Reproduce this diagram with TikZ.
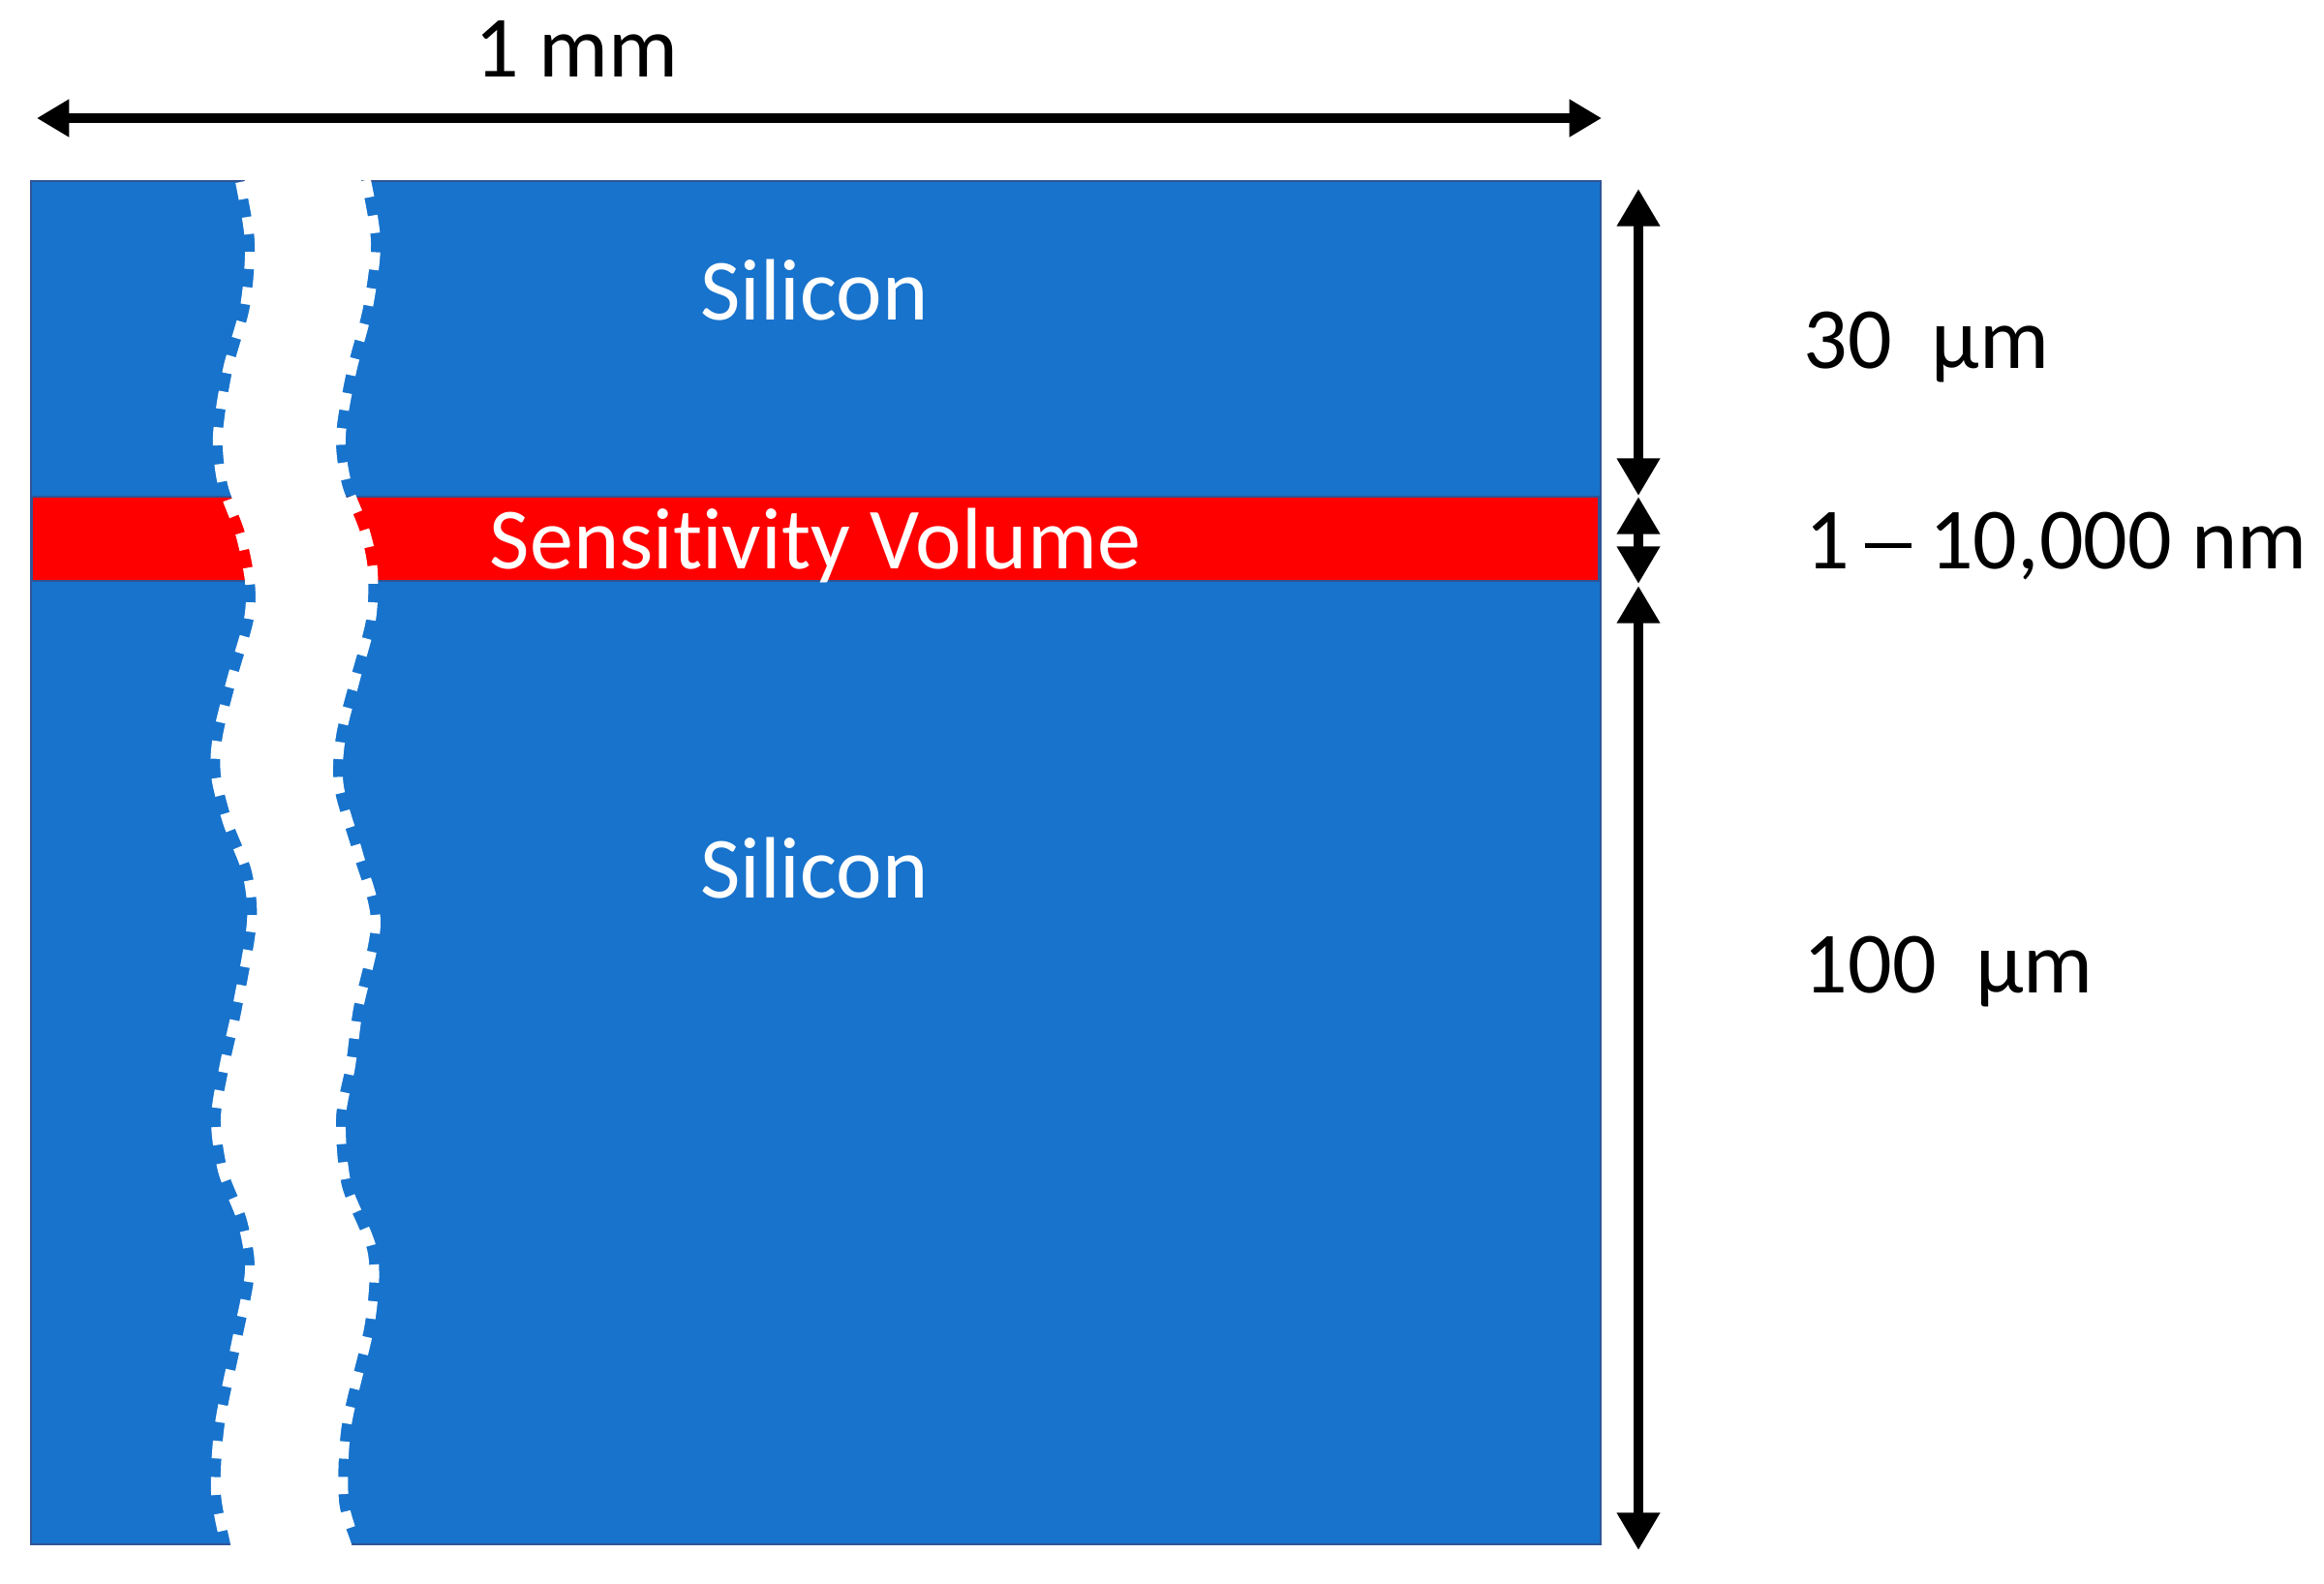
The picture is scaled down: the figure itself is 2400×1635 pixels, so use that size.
\documentclass[tikz,border=0pt]{standalone}
\usepackage{fontspec}
\setmainfont{Carlito}[Ligatures={NoCommon}]
\usetikzlibrary{arrows.meta}
\definecolor{siblue}{HTML}{1873CC}
\definecolor{siedge}{HTML}{2F5597}
\definecolor{svred}{HTML}{FF0000}
\begin{document}
\begin{tikzpicture}[x=0.01cm,y=-0.01cm,
  lbl/.style={font=\fontsize{25.6pt}{30pt}\selectfont, inner sep=0pt},
  wlbl/.style={lbl, text=white},
  dimarrow/.style={line width=3pt, {Triangle[width=12pt,length=11pt]}-{Triangle[width=12pt,length=11pt]}},
  harrow/.style={line width=2.8pt, {Triangle[width=10.5pt,length=9.5pt]}-{Triangle[width=10.5pt,length=9.5pt]}},
  gapedge/.style={white, line width=0.2cm, dash pattern=on 0.18cm off 0.19cm}]
\useasboundingbox (0,0) rectangle (2400,1635);
% silicon block
\path[fill=siblue, draw=siedge, line width=0.6pt] (32,187) rectangle (1653,1595);
% sensitivity volume
\path[fill=svred, draw=siedge, line width=0.6pt] (33,513) rectangle (1651,600);
% break in the block
\path[fill=white] plot[smooth] coordinates {(253,178) (253,187) (263,250) (258,317) (240,383) (230,450) (235,500) (253,550) (263,600) (262,640) (245,700) (230,760) (228,800) (240,848) (260,900) (265,953) (250,1041) (237,1100) (228,1155) (235,1208) (255,1260) (263,1313) (250,1383) (232,1471) (228,1541) (238,1595) (238,1604)}
  -- plot[smooth] coordinates {(363,1604) (363,1595) (350,1550) (353,1471) (377,1366) (380,1295) (353,1225) (347,1155) (357,1100) (365,1041) (383,953) (365,883) (345,813) (347,760) (362,700) (378,640) (380,590) (372,550) (353,500) (347,450) (358,383) (375,317) (383,250) (373,187) (373,178)} -- cycle;
\draw[gapedge] plot[smooth] coordinates {(253,187) (263,250) (258,317) (240,383) (230,450) (235,500) (253,550) (263,600) (262,640) (245,700) (230,760) (228,800) (240,848) (260,900) (265,953) (250,1041) (237,1100) (228,1155) (235,1208) (255,1260) (263,1313) (250,1383) (232,1471) (228,1541) (238,1595)};
\draw[gapedge] plot[smooth] coordinates {(373,187) (383,250) (375,317) (358,383) (347,450) (353,500) (372,550) (380,590) (378,640) (362,700) (347,760) (345,813) (365,883) (383,953) (365,1041) (357,1100) (347,1155) (353,1225) (380,1295) (377,1366) (353,1471) (350,1550) (363,1595)};
% labels inside
\node[wlbl, anchor=base] (si1) at (841,330) {Silicon};
\node[wlbl, anchor=base] (sv) at (842,587) {Sensitivity Volume};
\node[wlbl, anchor=base] (si2) at (841,927) {Silicon};
% width dimension
\coordinate (wl) at (38,122);
\coordinate (wr) at (1654,122);
\draw[harrow] (wl) -- (wr);
\node[lbl, anchor=base] (mm) at (595,79) {1 mm};
% thickness dimensions
\coordinate (t0) at (1692,195);
\coordinate (t1) at (1692,512);
\coordinate (t2) at (1692,513);
\coordinate (t3) at (1692,603);
\coordinate (t4) at (1692,605);
\coordinate (t5) at (1692,1601);
\draw[dimarrow] (t0) -- (t1);
\draw[dimarrow] (t2) -- (t3);
\draw[dimarrow] (t4) -- (t5);
\node[lbl, anchor=base west] (d30) at (1862,380) {30\ \ µm};
\node[lbl, anchor=base west] (dsv) at (1864,587) {1\hspace{0.17em}\rule[0.23em]{0.54em}{0.055em}\hspace{0.2em}10,000 nm};
\node[lbl, anchor=base west] (d100) at (1862,1025) {100\ \ µm};
\end{tikzpicture}
\end{document}
